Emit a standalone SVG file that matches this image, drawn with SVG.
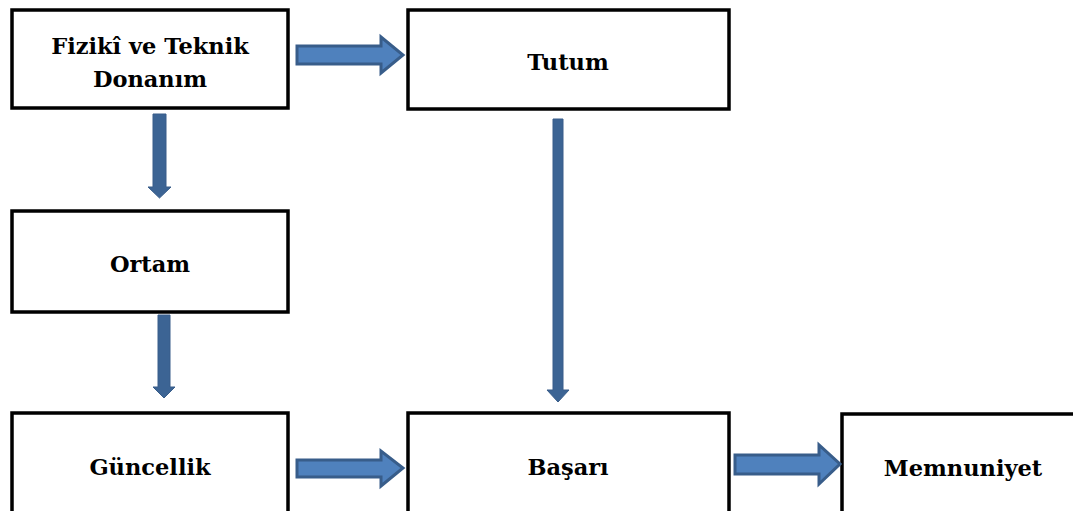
<svg xmlns="http://www.w3.org/2000/svg" width="1073" height="511" viewBox="0 0 1073 511">
<style>
.box{fill:#fff;stroke:#000;stroke-width:3.5}
.lbl{font-family:"DejaVu Serif","Liberation Serif",serif;font-weight:bold;font-size:22.5px;fill:#000;text-anchor:middle}
.ha{fill:#4F81BD;stroke:#385D8A;stroke-width:3;stroke-linejoin:miter}
.va{fill:#3C6494;stroke:#385D8A;stroke-width:1}
</style>
<rect width="1073" height="511" fill="#fff"/>
<g id="node-fiziki">
<rect class="box" x="12" y="10" width="276" height="98"/>
<text class="lbl" x="150" y="54">Fizikî ve Teknik</text>
<text class="lbl" x="150" y="87">Donanım</text>
</g>
<g id="node-tutum">
<rect class="box" x="408" y="10" width="321" height="99"/>
<text class="lbl" x="568" y="70">Tutum</text>
</g>
<g id="node-ortam">
<rect class="box" x="12" y="211" width="276" height="101"/>
<text class="lbl" x="150" y="272">Ortam</text>
</g>
<g id="node-guncellik">
<rect class="box" x="12" y="413" width="276" height="110"/>
<text class="lbl" x="150" y="475">Güncellik</text>
</g>
<g id="node-basari">
<rect class="box" x="408" y="413" width="321" height="110"/>
<text class="lbl" x="568" y="475">Başarı</text>
</g>
<g id="node-memnuniyet">
<rect class="box" x="842" y="414" width="250" height="110"/>
<text class="lbl" x="963" y="476">Memnuniyet</text>
</g>
<g id="connectors">
<polygon class="ha" points="297,46 381,46 381,37 403,55 381,73 381,64 297,64"/>
<polygon class="ha" points="297,460 381,460 381,451 403,468 381,486 381,477 297,477"/>
<polygon class="ha" points="735,455 819,455 819,445 840,464 819,484 819,474 735,474"/>
<polygon class="va" points="153,114 166,114 166,187 171,187 159.5,198 148,187 153,187"/>
<polygon class="va" points="158,315 170,315 170,387 175,387 164,398 153,387 158,387"/>
<polygon class="va" points="553,119 563,119 563,390 569,390 558,402 547,390 553,390"/>
</g>
</svg>
